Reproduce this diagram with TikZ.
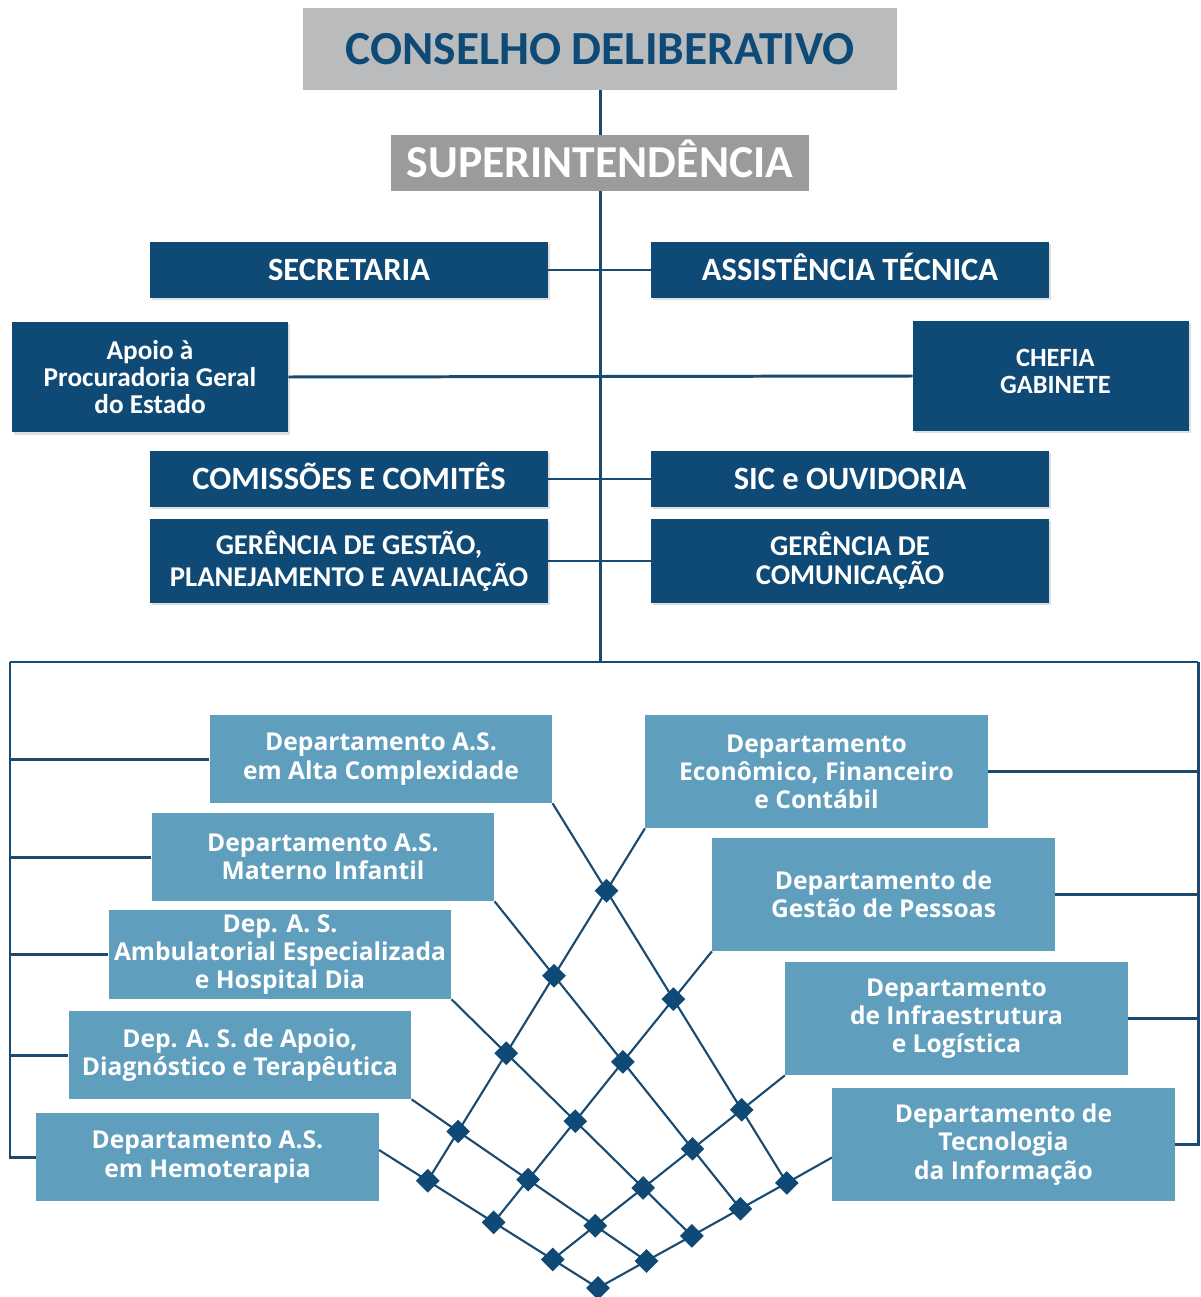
\documentclass[tikz,border=0pt]{standalone}
\usepackage{fontspec}
\setmainfont{Carlito}
\newfontfamily\osans{Open Sans}
\usetikzlibrary{shapes.geometric,shadows,calc}
\definecolor{navy}{RGB}{14,74,117}
\definecolor{linec}{RGB}{24,74,114}
\definecolor{lblue}{RGB}{96,158,190}
\definecolor{lgray}{RGB}{185,187,189}
\definecolor{mgray}{RGB}{155,155,155}
\tikzset{
  darkbox/.style={fill=navy, text=white, align=center, inner sep=0pt,
    font=\bfseries, drop shadow={shadow xshift=1.2pt, shadow yshift=-1.2pt, opacity=0.25}},
  onerow/.style={minimum width=7.96cm, minimum height=1.12cm, text height=12pt, text depth=0pt,
    font=\bfseries\fontsize{18.5}{20}\selectfont},
  lightbox/.style={fill=lblue, text=white, align=center, inner sep=0pt,
    minimum width=6.85cm, font=\osans\bfseries\fontsize{14}{16}\selectfont},
  mainline/.style={draw=linec, line width=1.7pt},
  latt/.style={draw=linec, line width=1.2pt},
  dia/.style={diamond, fill=navy, inner sep=0pt, minimum size=0.48cm},
}
\begin{document}
\begin{tikzpicture}[x=0.02cm,y=-0.02cm]
\useasboundingbox (0,0) rectangle (1200,1297);
\fill[white] (0,0) rectangle (1200,1297);

% top boxes
\node[fill=lgray, text=navy, minimum width=11.9cm, minimum height=1.64cm, inner sep=0pt,
  text height=17.5pt, text depth=0pt,
  font=\bfseries\fontsize{27}{30}\selectfont] (cons) at (600,49) {CONSELHO DELIBERATIVO};
\node[fill=mgray, text=white, minimum width=8.36cm, minimum height=1.12cm, inner sep=0pt,
  text height=17pt, text depth=0pt,
  font=\bfseries\fontsize{26}{30}\selectfont] (sup) at (600,163) {SUPERINTENDÊNCIA};

\coordinate (trunk) at (600,662);
\draw[mainline] (cons.south) -- (sup.north);
\draw[mainline] (sup.south) -- (trunk);

\node[darkbox, onerow] (sec) at (349,270) {SECRETARIA};
\node[darkbox, onerow] (ass) at (850,270) {ASSISTÊNCIA TÉCNICA};
\node[darkbox, minimum width=5.52cm, minimum height=2.22cm, font=\bfseries\fontsize{15.5}{15.5}\selectfont] (apoio) at (150,377) {Apoio à\\Procuradoria Geral\\do Estado};
\node[darkbox, minimum width=5.52cm, minimum height=2.2cm, font=\bfseries\fontsize{15}{15.5}\selectfont] (chefia) at (1051,376) {\hspace*{5pt}CHEFIA\\\hspace*{5pt}GABINETE\\[-10.3pt]};
\node[darkbox, onerow] (com) at (349,479) {COMISSÕES E COMITÊS};
\node[darkbox, onerow] (sic) at (850,479) {SIC e OUVIDORIA};
\node[darkbox, minimum width=7.96cm, minimum height=1.68cm, font=\bfseries\fontsize{16.3}{18.2}\selectfont] (ggp) at (349,561) {GERÊNCIA DE GESTÃO,\\PLANEJAMENTO E AVALIAÇÃO};
\node[darkbox, minimum width=7.96cm, minimum height=1.68cm, font=\bfseries\fontsize{16.3}{16.5}\selectfont] (gcom) at (850,561) {GERÊNCIA DE\\COMUNICAÇÃO};

\draw[mainline] (sec.east) -- (ass.west);
\draw[mainline] (apoio.east) -- (chefia.west);
\draw[mainline] (com.east) -- (sic.west);
\draw[mainline] (ggp.east) -- (gcom.west);

% lower boxes
\node[lightbox, minimum height=1.76cm] (L1) at (381,759) {Departamento A.S.\\em Alta Complexidade};
\node[lightbox, minimum height=1.76cm] (L2) at (323,857) {Departamento A.S.\\Materno Infantil};
\node[lightbox, minimum height=1.78cm] (L3) at (280,954.5) {Dep. A. S.\\Ambulatorial Especializada\\e Hospital Dia};
\node[lightbox, minimum height=1.76cm] (L4) at (240,1055) {Dep. A. S. de Apoio,\\Diagnóstico e Terapêutica};
\node[lightbox, minimum height=1.76cm] (L5) at (207.5,1157) {Departamento A.S.\\em Hemoterapia};
\node[lightbox, minimum height=2.26cm] (R1) at (816.5,771.5) {Departamento\\Econômico, Financeiro\\e Contábil};
\node[lightbox, minimum height=2.26cm] (R2) at (883.5,894.5) {Departamento de\\Gestão de Pessoas};
\node[lightbox, minimum height=2.26cm] (R3) at (956.5,1018.5) {Departamento\\de Infraestrutura\\e Logística};
\node[lightbox, minimum height=2.26cm] (R4) at (1003.5,1144.5) {Departamento de\\Tecnologia\\da Informação};

% bus and brackets
\coordinate (bl) at (10,662);
\coordinate (br) at (1198,662);
\draw[mainline] (bl) -- (br);
\draw[mainline] (bl) |- (L5.west);
\foreach \n in {L1,L2,L3,L4}
  \draw[mainline] (\n.west) -- (\n.west -| bl);
\draw[mainline] (br) |- (R4.east);
\foreach \n in {R1,R2,R3}
  \draw[mainline] (\n.east) -- (\n.east -| br);

% lattice
\coordinate (ls1) at (L1.south east);
\coordinate (ls2) at (L2.south east);
\coordinate (ls3) at (L3.south east);
\coordinate (ls4) at (L4.south east);
\coordinate (ls5) at ($(L5.east)+(0,-7)$);
\coordinate (rs1) at (R1.south west);
\coordinate (rs2) at (R2.south west);
\coordinate (rs3) at (R3.south west);
\coordinate (rs4) at ($(R4.west)+(0,13)$);
\coordinate (le1) at (785,1180);
\coordinate (le2) at (739,1207);
\coordinate (le3) at (691,1235);
\coordinate (le4) at (645,1260);
\coordinate (le5) at (598,1288);
\coordinate (re1) at (428,1180);
\coordinate (re2) at (493,1223);
\coordinate (re3) at (552,1260);
\coordinate (re4) at (598,1288);

\foreach \i in {1,...,5}{
  \foreach \j in {1,...,4}{
    \pgfcoordinate{p\i\j}{\pgfpointintersectionoflines
      {\pgfpointanchor{ls\i}{center}}{\pgfpointanchor{le\i}{center}}
      {\pgfpointanchor{rs\j}{center}}{\pgfpointanchor{re\j}{center}}}
  }
}

\foreach \i in {1,...,5}
  \draw[latt] (ls\i) -- (p\i1) -- (p\i2) -- (p\i3) -- (p\i4);
\foreach \j in {1,...,4}
  \draw[latt] (rs\j) -- (p1\j) -- (p2\j) -- (p3\j) -- (p4\j) -- (p5\j);

\foreach \i in {1,...,5}
  \foreach \j in {1,...,4}
    \node[dia] (d\i\j) at (p\i\j) {};
\end{tikzpicture}
\end{document}
